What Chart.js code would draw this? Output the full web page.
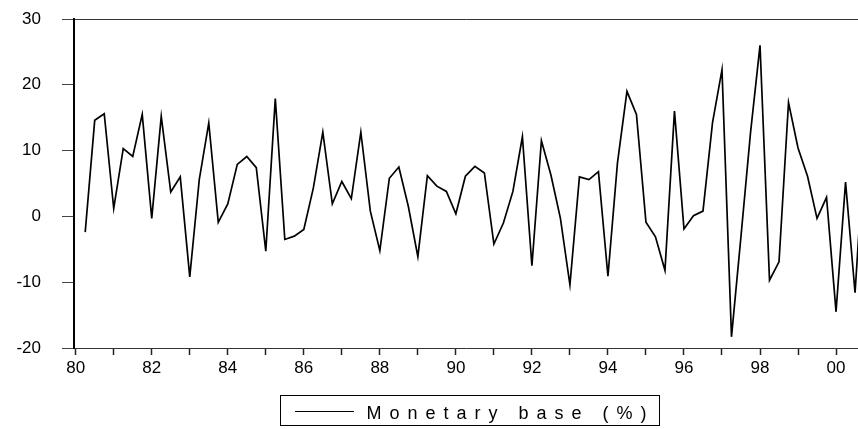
<!DOCTYPE html>
<html>
<head>
<meta charset="utf-8">
<title>Monetary base (%)</title>
<script src="https://cdn.jsdelivr.net/npm/chart.js@4/dist/chart.umd.min.js"></script>
<style>
  html, body { margin: 0; padding: 0; background: #ffffff; }
  #wrap { width: 858px; height: 429px; }
</style>
</head>
<body>
<div id="wrap"><canvas id="chart" width="858" height="429"></canvas></div>
<script>
// Quarterly growth of the monetary base, 1980Q2 - 2000Q4 (percent)
const seriesName = 'Monetary base (%)';
const firstYear = 1980;
const firstQuarter = 2;
const monetaryBase = [
  -2.4, 14.6, 15.6,
   1.2, 10.3,  9.1, 15.5,
  -0.3, 15.2,  3.7,  6.0,
  -9.2,  5.6, 14.2, -0.9,
   1.9,  7.9,  9.1,  7.4,
  -5.3, 17.9, -3.5, -3.0,
  -2.0,  4.3, 12.8,  1.9,
   5.3,  2.7, 12.8,  0.8,
  -5.2,  5.8,  7.5,  1.5,
  -6.1,  6.2,  4.6,  3.8,
   0.4,  6.1,  7.6,  6.6,
  -4.2, -1.0,  3.8, 12.1,
  -7.5, 11.5,  6.3, -0.3,
 -10.4,  6.0,  5.6,  6.8,
  -9.1,  8.1, 19.0, 15.5,
  -0.9, -3.1, -8.2, 16.0,
  -1.9,  0.1,  0.8, 14.2,
  22.3,-18.3, -3.0, 12.7,
  26.0, -9.7, -6.9, 17.3,
  10.4,  6.1, -0.3,  2.9,
 -14.5,  5.2,-11.6, 11.0
];

// Period labels ("1980Q2", ...) for each observation
const categories = monetaryBase.map((_, i) => {
  const q = firstQuarter - 1 + i;
  return (firstYear + Math.floor(q / 4)) + 'Q' + (q % 4 + 1);
});

// Year tick marks and the labels printed under every second year
const tickYears = [1980,1981,1982,1983,1984,1985,1986,1987,1988,1989,1990,
                   1991,1992,1993,1994,1995,1996,1997,1998,1999,2000];
const tickLabels = ['80','82','84','86','88','90','92','94','96','98','00'];
const yTicks = [-20, -10, 0, 10, 20, 30];

// x position measured in quarters since 1980Q1
const periodIndex = (label) => (parseInt(label.slice(0, 4)) - firstYear) * 4 + (parseInt(label.slice(5)) - 1);
const points = categories.map((c, i) => ({ x: periodIndex(c), y: monetaryBase[i] }));

const FONT = '"Liberation Sans", Arial, Helvetica, sans-serif';

// Boxed legend with letter-spaced caption below the plot
const boxedLegend = {
  id: 'boxedLegend',
  afterDraw(chart) {
    const { ctx, chartArea } = chart;
    const cx = (chartArea.left + chartArea.right) / 2;
    const boxW = 379, boxH = 30;
    const x0 = Math.round(cx - boxW / 2 + 3) + 0.5;
    const y0 = 395.5;
    ctx.save();
    ctx.strokeStyle = '#000000';
    ctx.lineWidth = 1;
    ctx.strokeRect(x0, y0, boxW, boxH);
    ctx.beginPath();
    ctx.moveTo(x0 + 14.5, y0 + 16);
    ctx.lineTo(x0 + 73.5, y0 + 16);
    ctx.lineWidth = 1.2;
    ctx.stroke();
    ctx.fillStyle = '#000000';
    ctx.font = '18px ' + FONT;
    ctx.letterSpacing = '8px';
    ctx.textBaseline = 'alphabetic';
    ctx.textAlign = 'left';
    ctx.fillText(chart.data.datasets[0].label, x0 + 86, 418.5);
    ctx.restore();
  }
};

new Chart(document.getElementById('chart'), {
  type: 'line',
  data: {
    datasets: [{
      label: seriesName,
      data: points,
      borderColor: '#000000',
      borderWidth: 1.7,
      pointRadius: 0,
      tension: 0,
      fill: false
    }]
  },
  options: {
    responsive: false,
    animation: false,
    devicePixelRatio: 1,
    layout: { padding: { top: 19, right: 0, bottom: 50, left: 0 } },
    plugins: {
      legend: { display: false },
      tooltip: { enabled: false }
    },
    scales: {
      x: {
        type: 'linear',
        min: -0.18,
        max: 82.31,
        afterBuildTicks(scale) {
          scale.ticks = tickYears.map(y => ({ value: (y - firstYear) * 4 }));
        },
        afterFit(scale) {
          scale.height = 31;
          scale.paddingLeft = 0;
          scale.paddingRight = 0;
        },
        ticks: {
          autoSkip: false,
          maxRotation: 0,
          padding: 3,
          color: '#000000',
          font: { family: FONT, size: 17 },
          callback(value) {
            const year = firstYear + value / 4;
            return (year - firstYear) % 2 === 0 ? tickLabels[(year - firstYear) / 2] : '';
          }
        },
        grid: {
          drawOnChartArea: false,
          drawTicks: true,
          tickLength: 7,
          tickColor: '#222222',
          tickWidth: 1.5
        },
        border: { display: true, color: '#333333', width: 1 }
      },
      y: {
        min: -20,
        max: 30,
        afterBuildTicks(scale) {
          scale.ticks = yTicks.map(v => ({ value: v }));
        },
        afterFit(scale) {
          scale.width = 74;
          scale.paddingTop = 0;
          scale.paddingBottom = 0;
        },
        ticks: {
          padding: 21,
          color: '#000000',
          font: { family: FONT, size: 17 }
        },
        grid: {
          drawOnChartArea: true,
          color: (ctx) => (ctx.tick && ctx.tick.value === 30 ? '#333333' : 'rgba(0,0,0,0)'),
          lineWidth: 1,
          tickLength: 12,
          tickColor: '#444444',
          tickWidth: 1
        },
        border: { display: true, color: '#000000', width: 2 }
      }
    }
  },
  plugins: [boxedLegend]
});
</script>
</body>
</html>
